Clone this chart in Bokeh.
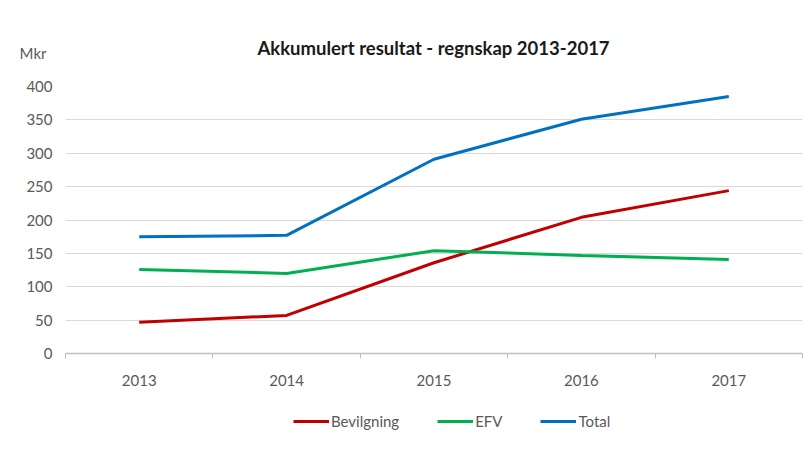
from bokeh.plotting import figure
from bokeh.layouts import column
from bokeh.models import (Range1d, FixedTicker, Legend, LegendItem, Label)
from bokeh.embed import file_html
from bokeh.resources import INLINE

years = [2013, 2014, 2015, 2016, 2017]
bevilgning = [47, 57, 136, 204, 244]
efv = [126, 120, 154, 147, 141]
total = [175, 177, 291, 351, 385]
y_ticks = [0, 50, 100, 150, 200, 250, 300, 350, 400]
series_names = ["Bevilgning", "EFV", "Total"]
series_colors = ["#C00000", "#00B050", "#0070C0"]
title_text = "Akkumulert resultat - regnskap 2013-2017"
y_unit = "Mkr"

FONT = "Lato"
TXT = "#595959"
W = 805
LEFT = 65

# ---- header: title and unit label ----
HEAD_H = 70
head = figure(width=W, height=HEAD_H, output_backend="svg", toolbar_location=None,
              x_range=Range1d(0, 1), y_range=Range1d(0, HEAD_H),
              x_axis_type=None, min_border=0, min_border_left=LEFT, min_border_right=3)
head.outline_line_color = None
head.grid.visible = False
unit_pos = HEAD_H - 52
head.yaxis.ticker = FixedTicker(ticks=[unit_pos])
head.yaxis.major_label_overrides = {unit_pos: y_unit}
head.yaxis.axis_line_color = None
head.yaxis.major_tick_line_color = None
head.yaxis.minor_tick_line_color = None
head.yaxis.major_label_text_font = FONT
head.yaxis.major_label_text_font_size = "15px"
head.yaxis.major_label_text_color = TXT
head.yaxis.major_label_standoff = 13
head.add_layout(Label(x=433 - LEFT, y=HEAD_H - 47, x_units="screen", y_units="screen",
                      text=title_text, text_align="center", text_baseline="middle",
                      text_font=FONT, text_font_size="18.5px", text_font_style="bold",
                      text_color="#1a1a1a"))

# ---- main chart ----
p = figure(frame_width=737, frame_height=267, output_backend="svg", toolbar_location=None,
           x_range=Range1d(years[0] - 0.5, years[-1] + 0.5),
           y_range=Range1d(0, 400),
           min_border_left=LEFT, min_border_right=3, min_border_top=16, min_border_bottom=38)
p.outline_line_color = None

p.xaxis.ticker = FixedTicker(ticks=years, minor_ticks=[y - 0.5 for y in years] + [years[-1] + 0.5])
p.xaxis.major_tick_out = 0
p.xaxis.major_tick_in = 0
p.xaxis.minor_tick_out = 5
p.xaxis.minor_tick_in = 0
p.xaxis.minor_tick_line_color = "#BFBFBF"
p.xaxis.axis_line_color = "#BFBFBF"
p.xaxis.axis_line_width = 1.5
p.xaxis.major_label_text_font = FONT
p.xaxis.major_label_text_font_size = "15px"
p.xaxis.major_label_text_color = TXT
p.xaxis.major_label_standoff = 16

p.yaxis.ticker = FixedTicker(ticks=y_ticks)
p.yaxis.axis_line_color = None
p.yaxis.major_tick_line_color = None
p.yaxis.minor_tick_line_color = None
p.yaxis.major_label_text_font = FONT
p.yaxis.major_label_text_font_size = "15px"
p.yaxis.major_label_text_color = TXT
p.yaxis.major_label_standoff = 7

p.xgrid.grid_line_color = None
p.ygrid.grid_line_color = "#D9D9D9"
p.ygrid.grid_line_width = 1

for vals, col in zip([bevilgning, efv, total], series_colors):
    p.line(years, vals, line_color=col, line_width=3)

# ---- legend strip ----
LEG_H = 450 - HEAD_H - (16 + 267 + 38)
leg = figure(width=W, height=LEG_H, output_backend="svg", toolbar_location=None,
             x_range=Range1d(0, 1), y_range=Range1d(0, 1),
             x_axis_type=None, y_axis_type=None, min_border=0,
             min_border_left=LEFT, min_border_right=3)
leg.outline_line_color = None
leg.grid.visible = False
items = []
for name, vals, col in zip(series_names, [bevilgning, efv, total], series_colors):
    r = leg.line(years, vals, line_color=col, line_width=3)  # off-range, only for legend glyph
    items.append(LegendItem(label=name, renderers=[r]))
legend = Legend(items=items, orientation="horizontal", location=(293 - LEFT, LEG_H - 30 - 10),
                label_text_font=FONT, label_text_font_size="15px", label_text_color=TXT,
                glyph_width=36, glyph_height=20, spacing=38, label_standoff=2,
                border_line_color=None, background_fill_alpha=0, padding=0, margin=0)
leg.add_layout(legend)

layout = column(head, p, leg, spacing=0)
open("out.html", "w").write(file_html(layout, INLINE))
